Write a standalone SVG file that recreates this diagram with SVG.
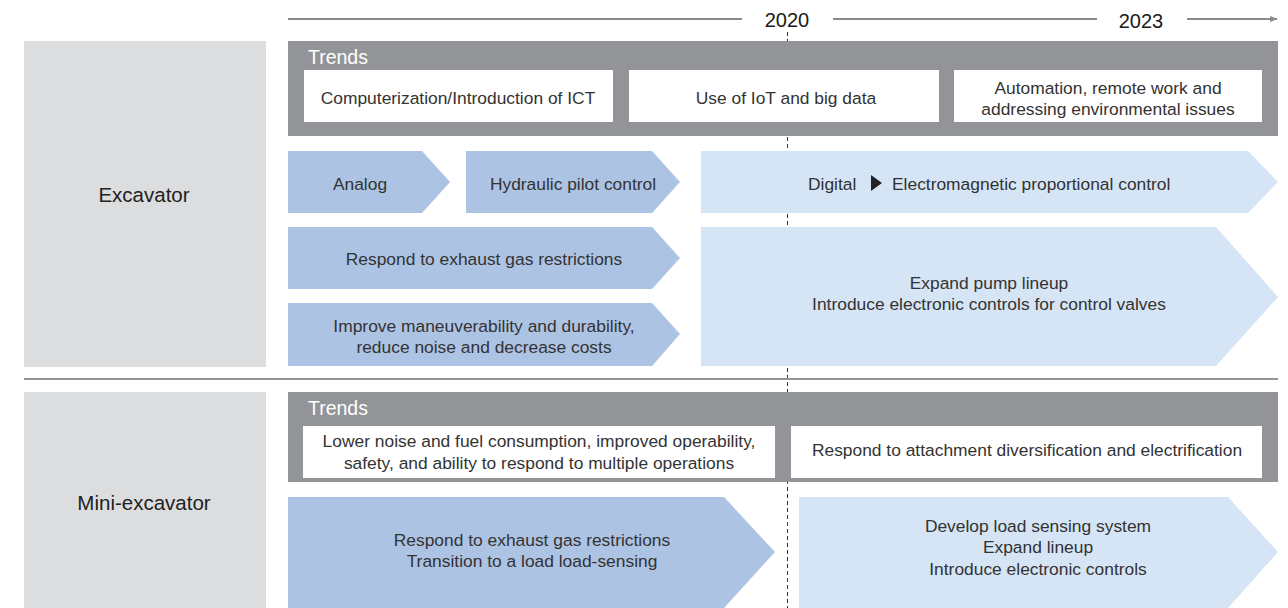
<svg xmlns="http://www.w3.org/2000/svg" width="1288" height="608" viewBox="0 0 1288 608">
<defs>
<style>
text{font-family:"Liberation Sans",Arial,sans-serif;fill:#333;font-size:17.4px}
.c{text-anchor:middle}
.lbl{fill:#dcdddf}
.trend{fill:#939498}
.tt{fill:#fff;font-size:19.5px}
.wb{fill:#fff}
.dk{fill:#adc3e4}
.lt{fill:#d5e5f5}
.yr{font-size:20px;fill:#1a1a1a}
.big{font-size:20.5px;fill:#222}
</style>
<marker id="ah" viewBox="0 0 10 10" refX="9" refY="5" markerWidth="8" markerHeight="8" markerUnits="userSpaceOnUse" orient="auto">
<path d="M0,1 L10,5 L0,9 z" fill="#8a8a8a"/>
</marker>
</defs>
<rect width="1288" height="608" fill="#fff"/>

<g id="connectors">
<line x1="787.5" y1="32" x2="787.5" y2="608" stroke="#333" stroke-width="1" stroke-dasharray="4,3"/>
</g>

<g id="timeline">
<line x1="288" y1="19" x2="742" y2="19" stroke="#8a8a8a" stroke-width="2"/>
<text class="c yr" x="787" y="27">2020</text>
<line x1="833" y1="19" x2="1097" y2="19" stroke="#8a8a8a" stroke-width="2"/>
<text class="c yr" x="1141" y="28">2023</text>
<line x1="1187" y1="19" x2="1277" y2="19" stroke="#8a8a8a" stroke-width="2" marker-end="url(#ah)"/>
</g>

<g id="excavator-label">
<rect class="lbl" x="24" y="41" width="242" height="326"/>
<text class="c big" x="144" y="202">Excavator</text>
</g>

<g id="excavator-trends">
<rect class="trend" x="288" y="41" width="990" height="95"/>
<text class="tt" x="308" y="64">Trends</text>
<rect class="wb" x="304" y="70" width="309" height="52"/>
<text class="c" x="458" y="104">Computerization/Introduction of ICT</text>
<rect class="wb" x="629" y="70" width="310" height="52"/>
<text class="c" x="786" y="104">Use of IoT and big data</text>
<rect class="wb" x="954" y="70" width="308" height="52"/>
<text class="c" x="1108" y="94">Automation, remote work and</text>
<text class="c" x="1108" y="115">addressing environmental issues</text>
</g>

<g id="analog">
<polygon class="dk" points="288,151 422,151 450,182 422,213 288,213"/>
<text class="c" x="360" y="190">Analog</text>
</g>
<g id="hydraulic">
<polygon class="dk" points="466,151 652,151 680,182 652,213 466,213"/>
<text class="c" x="573" y="190">Hydraulic pilot control</text>
</g>
<g id="digital">
<polygon class="lt" points="701,151 1248,151 1278,182 1248,213 701,213"/>
<text x="808" y="190">Digital</text>
<polygon points="871,175 882,183 871,191" fill="#222"/>
<text x="892" y="190">Electromagnetic proportional control</text>
</g>
<g id="exhaust1">
<polygon class="dk" points="288,227 652,227 680,258 652,289 288,289"/>
<text class="c" x="484" y="265">Respond to exhaust gas restrictions</text>
</g>
<g id="maneuver">
<polygon class="dk" points="288,303 652,303 680,334 652,366 288,366"/>
<text class="c" x="484" y="332">Improve maneuverability and durability,</text>
<text class="c" x="484" y="353">reduce noise and decrease costs</text>
</g>
<g id="pump">
<polygon class="lt" points="701,227 1216,227 1278,297 1216,366 701,366"/>
<text class="c" x="989" y="289">Expand pump lineup</text>
<text class="c" x="989" y="310">Introduce electronic controls for control valves</text>
</g>

<g id="separator">
<line x1="24" y1="379" x2="1278" y2="379" stroke="#939498" stroke-width="2"/>
</g>

<g id="mini-label">
<rect class="lbl" x="24" y="392" width="242" height="216"/>
<text class="c big" x="144" y="510">Mini-excavator</text>
</g>

<g id="mini-trends">
<rect class="trend" x="288" y="392" width="990" height="90"/>
<text class="tt" x="308" y="415">Trends</text>
<rect class="wb" x="303" y="426" width="472" height="52"/>
<text class="c" x="539" y="447">Lower noise and fuel consumption, improved operability,</text>
<text class="c" x="539" y="469">safety, and ability to respond to multiple operations</text>
<rect class="wb" x="791" y="426" width="471" height="52"/>
<text class="c" x="1027" y="456">Respond to attachment diversification and electrification</text>
</g>

<g id="mini-exhaust">
<polygon class="dk" points="288,497 724,497 775,552 724,608 288,608"/>
<text class="c" x="532" y="546">Respond to exhaust gas restrictions</text>
<text class="c" x="532" y="567">Transition to a load load-sensing</text>
</g>
<g id="mini-load">
<polygon class="lt" points="799,497 1228,497 1278,552 1228,608 799,608"/>
<text class="c" x="1038" y="532">Develop load sensing system</text>
<text class="c" x="1038" y="553">Expand lineup</text>
<text class="c" x="1038" y="575">Introduce electronic controls</text>
</g>
</svg>
